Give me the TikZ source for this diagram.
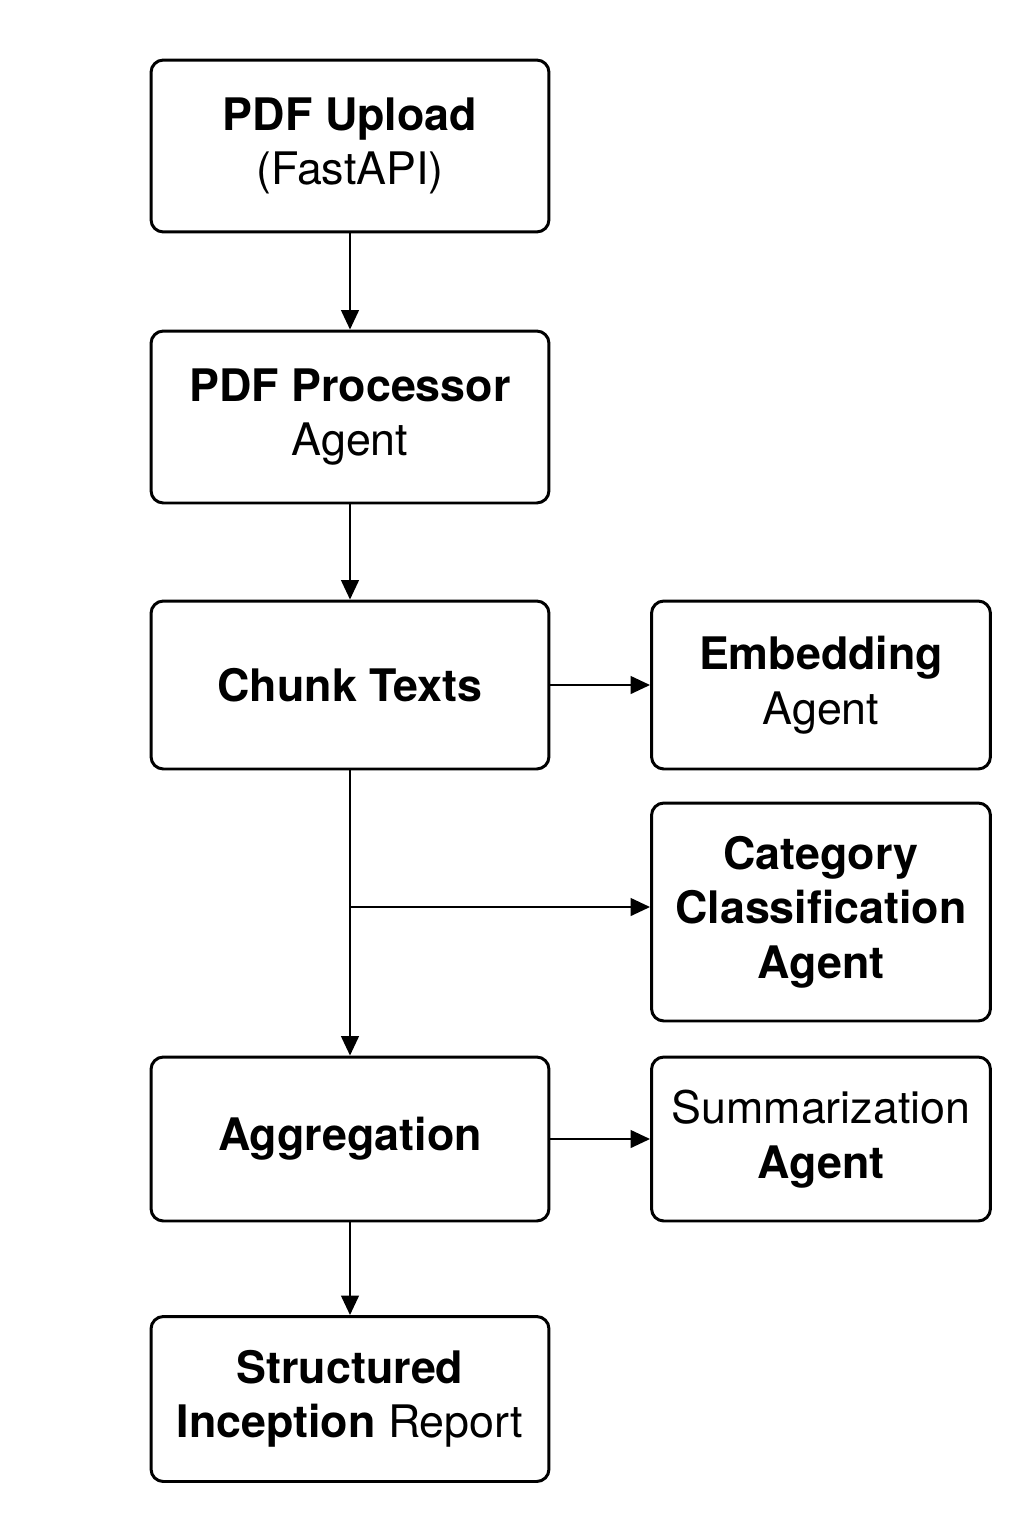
\documentclass[tikz,border=0pt]{standalone}
\usepackage{fontspec}
\setmainfont{TeX Gyre Heros}
\usetikzlibrary{arrows.meta,positioning,calc}

\begin{document}
\begin{tikzpicture}[x=0.02cm, y=-0.02cm, >={Triangle[length=11pt,width=10pt]}]
   \useasboundingbox (0,0) rectangle (1024,1536);
   \begin{scope}[every node/.style={draw, line width=1.7pt, rounded corners=7pt, align=center,
        font=\fontsize{25.5}{31}\selectfont, inner sep=0pt}]
    \node (upload) [minimum width=7.96cm, minimum height=3.44cm] at (350,146) {\textbf{PDF Upload}\\(FastAPI)};
    \node (proc) [minimum width=7.96cm, minimum height=3.44cm] at (350,417) {\textbf{PDF Processor}\\Agent};
    \node (chunk) [minimum width=7.96cm, minimum height=3.36cm] at (350,685) {\textbf{Chunk Texts}};
    \node (agg) [minimum width=7.96cm, minimum height=3.28cm] at (350,1139) {\textbf{Aggregation}};
    \node (report) [minimum width=7.96cm, minimum height=3.30cm] at (350,1399) {\textbf{Structured}\\\textbf{Inception} Report};
    \node (embed) [minimum width=6.78cm, minimum height=3.36cm] at (821,685) {\textbf{Embedding}\\Agent};
    \node (categ) [minimum width=6.78cm, minimum height=4.36cm] at (821,912) {\textbf{Category}\\\textbf{Classification}\\\textbf{Agent}};
    \node (summ) [minimum width=6.78cm, minimum height=3.28cm] at (821,1139) {Summarization\\\textbf{Agent}};
   \end{scope}
   \coordinate (split) at (350,907);
   \begin{scope}[->, line width=1.3pt]
    \draw (upload) -- (proc);
    \draw (proc) -- (chunk);
    \draw (chunk) -- (embed);
    \draw (chunk) -- (agg);
    \draw (split) -- (split -| categ.west);
    \draw (agg) -- (summ);
    \draw (agg) -- (report);
   \end{scope}
\end{tikzpicture}
\end{document}
